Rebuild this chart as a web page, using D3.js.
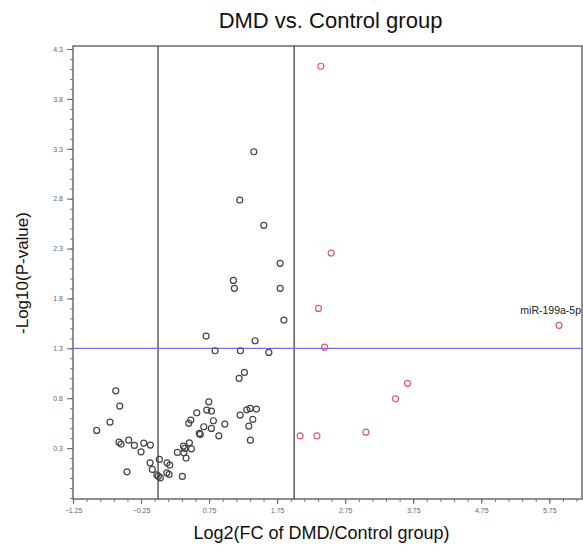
<!DOCTYPE html>
<html>
<head>
<meta charset="utf-8">
<script src="https://cdn.jsdelivr.net/npm/d3@7"></script>
<style>
	body { margin: 0; background: #fff; }
	svg { font-family: 'Liberation Sans', Arial, sans-serif; }
</style>
</head>
<body>
<div id="chart"></div>
<script>
// Non-significant / below-threshold miRNAs (black)
const blackX = [1.407, 1.201, 1.554, 1.794, 1.107, 1.122, 1.794, 1.849, 0.706, 1.426,
	0.838, 1.210, 1.628, 1.269, 1.191, -0.622, -0.563, -0.706, -0.902, -0.574,
	-0.544, -0.431, -0.348, -0.210, -0.113, -0.250, -0.456, -0.118, -0.084, 0.019,
	-0.019, 0.005, 0.034, 0.132, 0.172, 0.128, 0.162, 0.357, 0.284, 0.372,
	0.392, 0.460, 0.490, 0.412, 0.378, 0.451, 0.481, 0.569, 0.607, 0.620,
	0.672, 0.746, 0.716, 0.784, 0.813, 0.784, 0.893, 0.981, 1.206, 1.304,
	1.353, 1.446, 1.393, 1.334, 1.357];
const blackY = [3.27, 2.786, 2.533, 2.152, 1.981, 1.901, 1.901, 1.583, 1.423, 1.376,
	1.276, 1.276, 1.259, 1.059, 0.999, 0.874, 0.721, 0.561, 0.477, 0.36,
	0.34, 0.38, 0.327, 0.35, 0.33, 0.263, 0.062, 0.153, 0.086, 0.187,
	0.032, 0.019, 0.002, 0.153, 0.13, 0.052, 0.036, 0.016, 0.257, 0.32,
	0.297, 0.353, 0.293, 0.2, 0.253, 0.548, 0.581, 0.654, 0.447, 0.437,
	0.514, 0.764, 0.681, 0.671, 0.574, 0.497, 0.423, 0.541, 0.631, 0.684,
	0.698, 0.691, 0.588, 0.521, 0.38];

// Up-regulated miRNAs (red)
const redX = [2.393, 2.544, 2.357, 2.446, 5.893, 3.666, 3.49, 3.054, 2.088, 2.334];
const redY = [4.127, 2.255, 1.70, 1.312, 1.53, 0.949, 0.794, 0.46, 0.423, 0.423];
const redNames = ['', '', '', '', 'miR-199a-5p', '', '', '', '', ''];

// Axis ticks and thresholds
const xTicks = [-1.25, -0.25, 0.75, 1.75, 2.75, 3.75, 4.75, 5.75];
const yTicks = [0.3, 0.8, 1.3, 1.8, 2.3, 2.8, 3.3, 3.8, 4.3];
const xThresholds = [0, 2];
const yThreshold = 1.3;

const W = 583, H = 550;
const plotL = 73, plotR = 582, plotT = 46, plotB = 499;

const svg = d3.select('#chart').append('svg')
	.attr('width', W)
	.attr('height', H);

const x = d3.scaleLinear().domain([-1.25, 6.23]).range([plotL, plotR]);
const y = d3.scaleLinear().domain([-0.21, 4.33]).range([plotB, plotT]);

// minor ticks
const xMinor = d3.range(-1.25, 6.2, 0.2);
const yMinor = d3.range(-0.2, 4.33, 0.1);

svg.append('g')
	.attr('transform', `translate(0,${plotB})`)
	.call(d3.axisBottom(x).tickValues(xMinor).tickSize(3).tickFormat(''))
	.call((g) => g.select('.domain').remove())
	.selectAll('line').attr('stroke', '#777');

svg.append('g')
	.attr('transform', `translate(${plotL},0)`)
	.call(d3.axisLeft(y).tickValues(yMinor).tickSize(3).tickFormat(''))
	.call((g) => g.select('.domain').remove())
	.selectAll('line').attr('stroke', '#777');

// major ticks
const xAxis = svg.append('g')
	.attr('transform', `translate(0,${plotB})`)
	.call(d3.axisBottom(x).tickValues(xTicks).tickSize(5).tickPadding(4).tickFormat(d3.format('.2f')))
	.call((g) => g.select('.domain').remove());
xAxis.selectAll('line').attr('stroke', '#666');
xAxis.selectAll('text').attr('font-size', 7).attr('fill', '#666');

const yAxis = svg.append('g')
	.attr('transform', `translate(${plotL},0)`)
	.call(d3.axisLeft(y).tickValues(yTicks).tickSize(6).tickPadding(4).tickFormat(d3.format('.1f')))
	.call((g) => g.select('.domain').remove());
yAxis.selectAll('line').attr('stroke', '#666');
yAxis.selectAll('text').attr('font-size', 7).attr('fill', '#666');

// frame
svg.append('rect')
	.attr('x', plotL)
	.attr('y', plotT)
	.attr('width', plotR - plotL)
	.attr('height', plotB - plotT)
	.attr('fill', 'none')
	.attr('stroke', '#6b6b6b')
	.attr('stroke-width', 1.5);

// threshold lines
svg.selectAll('.vline')
	.data(xThresholds)
	.enter()
	.append('line')
	.attr('x1', (d) => x(d))
	.attr('x2', (d) => x(d))
	.attr('y1', plotT)
	.attr('y2', plotB)
	.attr('stroke', '#333')
	.attr('stroke-width', 1.2);

svg.append('line')
	.attr('x1', plotL)
	.attr('x2', plotR)
	.attr('y1', y(yThreshold))
	.attr('y2', y(yThreshold))
	.attr('stroke', '#6f6ff0')
	.attr('stroke-width', 1.3);

// points
const black = blackX.map((d, i) => ({ x: d, y: blackY[i] }));
const red = redX.map((d, i) => ({ x: d, y: redY[i], name: redNames[i] }));

svg.append('g')
	.selectAll('circle')
	.data(black)
	.enter()
	.append('circle')
	.attr('cx', (d) => x(d.x))
	.attr('cy', (d) => y(d.y))
	.attr('r', 3)
	.attr('fill', 'none')
	.attr('stroke', '#444')
	.attr('stroke-width', 1.2);

svg.append('g')
	.selectAll('circle')
	.data(red)
	.enter()
	.append('circle')
	.attr('cx', (d) => x(d.x))
	.attr('cy', (d) => y(d.y))
	.attr('r', 3)
	.attr('fill', 'none')
	.attr('stroke', '#e05a70')
	.attr('stroke-width', 1.2);

svg.append('g')
	.selectAll('text')
	.data(red.filter((d) => d.name))
	.enter()
	.append('text')
	.attr('x', plotR - 1)
	.attr('y', (d) => y(d.y) - 11)
	.attr('text-anchor', 'end')
	.attr('font-size', 10.5)
	.attr('fill', '#222')
	.text((d) => d.name);

// titles
svg.append('text')
	.attr('x', (plotL + plotR) / 2 + 3)
	.attr('y', 28)
	.attr('text-anchor', 'middle')
	.attr('font-size', 22)
	.attr('fill', '#111')
	.text('DMD vs. Control group');

svg.append('text')
	.attr('x', (plotL + plotR) / 2 - 6)
	.attr('y', 539)
	.attr('text-anchor', 'middle')
	.attr('font-size', 18)
	.attr('fill', '#111')
	.text('Log2(FC of DMD/Control group)');

svg.append('text')
	.attr('transform', `translate(28,273) rotate(-90)`)
	.attr('text-anchor', 'middle')
	.attr('font-size', 17)
	.attr('fill', '#111')
	.text('-Log10(P-value)');
</script>
</body>
</html>
